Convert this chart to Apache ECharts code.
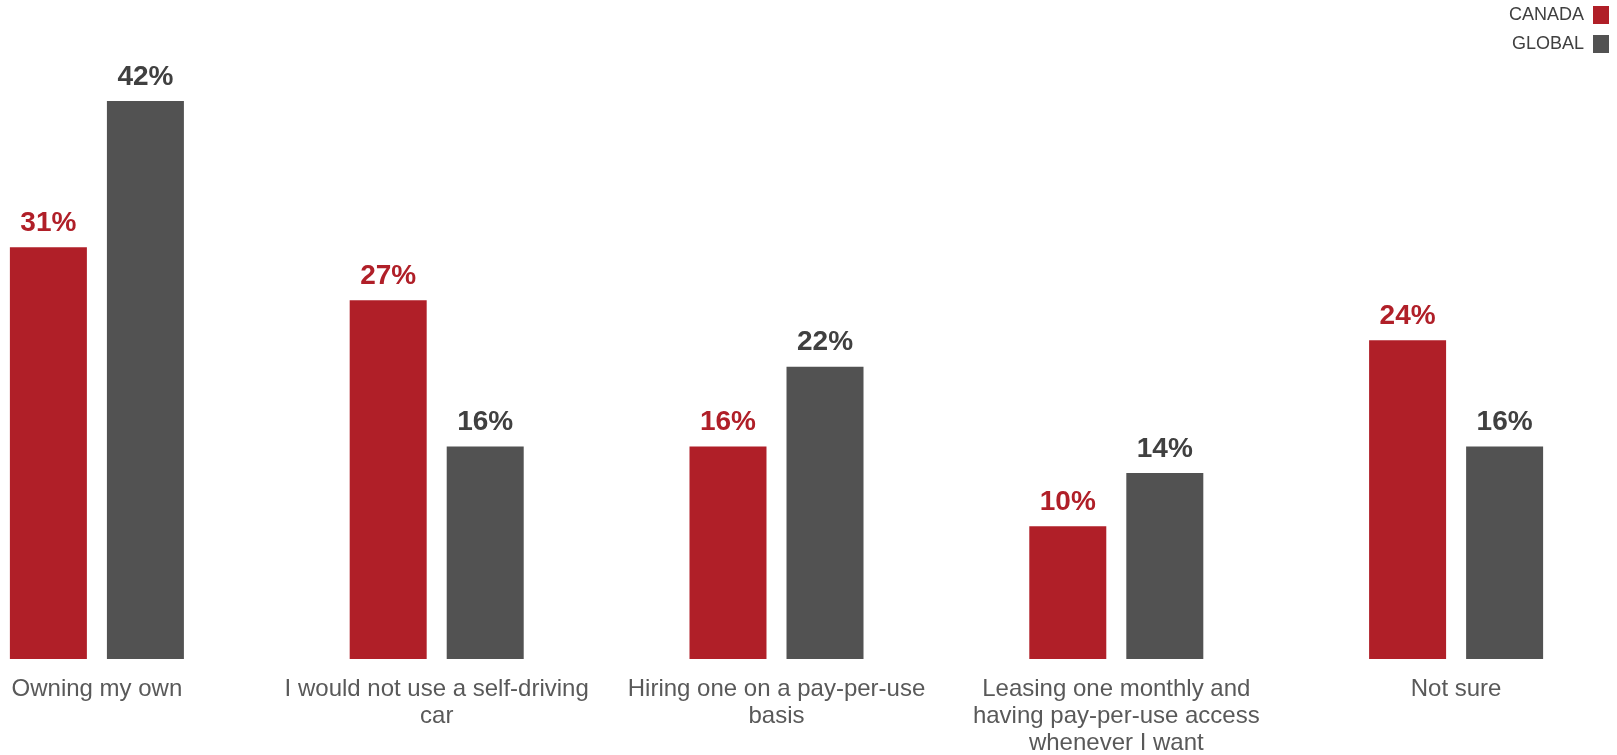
<!DOCTYPE html>
<html>
<head>
<meta charset="utf-8">
<script src="https://cdn.jsdelivr.net/npm/echarts@6/dist/echarts.min.js"></script>
<style>
html,body{margin:0;padding:0;background:#fff;}
#chart{width:1617px;height:755px;}
</style>
</head>
<body>
<div id="chart"></div>
<script>
var categories = [
  'Owning my own',
  'I would not use a self-driving\ncar',
  'Hiring one on a pay-per-use\nbasis',
  'Leasing one monthly and\nhaving pay-per-use access\nwhenever I want',
  'Not sure'
];
var canada = [31, 27, 16, 10, 24];
var global = [42, 16, 22, 14, 16];
var seriesNames = ['CANADA', 'GLOBAL'];

var FONT = '"Liberation Sans", Arial, sans-serif';
var chart = echarts.init(document.getElementById('chart'));
chart.setOption({
  backgroundColor: '#ffffff',
  animation: false,
  textStyle: { fontFamily: FONT },
  legend: {
    orient: 'vertical',
    right: 8,
    top: 6,
    padding: 0,
    align: 'right',
    itemWidth: 16,
    itemHeight: 18,
    itemGap: 11,
    icon: 'rect',
    textStyle: { fontFamily: FONT, fontSize: 18, color: '#404040', padding: [0, 4, 0, 0] },
    data: seriesNames
  },
  grid: { left: -73, right: -9, top: 101, bottom: 96, containLabel: false, outerBoundsMode: 'none' },
  xAxis: {
    type: 'category',
    data: categories,
    axisLine: { show: false },
    axisTick: { show: false },
    axisLabel: {
      interval: 0,
      margin: 17,
      fontFamily: FONT,
      fontSize: 24,
      lineHeight: 27,
      color: '#595959'
    }
  },
  yAxis: {
    type: 'value',
    min: 0,
    max: 42,
    show: false,
    splitLine: { show: false }
  },
  series: [
    {
      name: seriesNames[0],
      type: 'bar',
      data: canada,
      barWidth: 77,
      barGap: '26%',
      itemStyle: { color: '#B01F28' },
      label: {
        show: true,
        position: 'top',
        distance: 10,
        formatter: '{c}%',
        fontFamily: FONT,
        fontSize: 28,
        fontWeight: 'bold',
        color: '#B01F28'
      }
    },
    {
      name: seriesNames[1],
      type: 'bar',
      data: global,
      barWidth: 77,
      barGap: '26%',
      itemStyle: { color: '#525252' },
      label: {
        show: true,
        position: 'top',
        distance: 10,
        formatter: '{c}%',
        fontFamily: FONT,
        fontSize: 28,
        fontWeight: 'bold',
        color: '#404040'
      }
    }
  ]
});
</script>
</body>
</html>
